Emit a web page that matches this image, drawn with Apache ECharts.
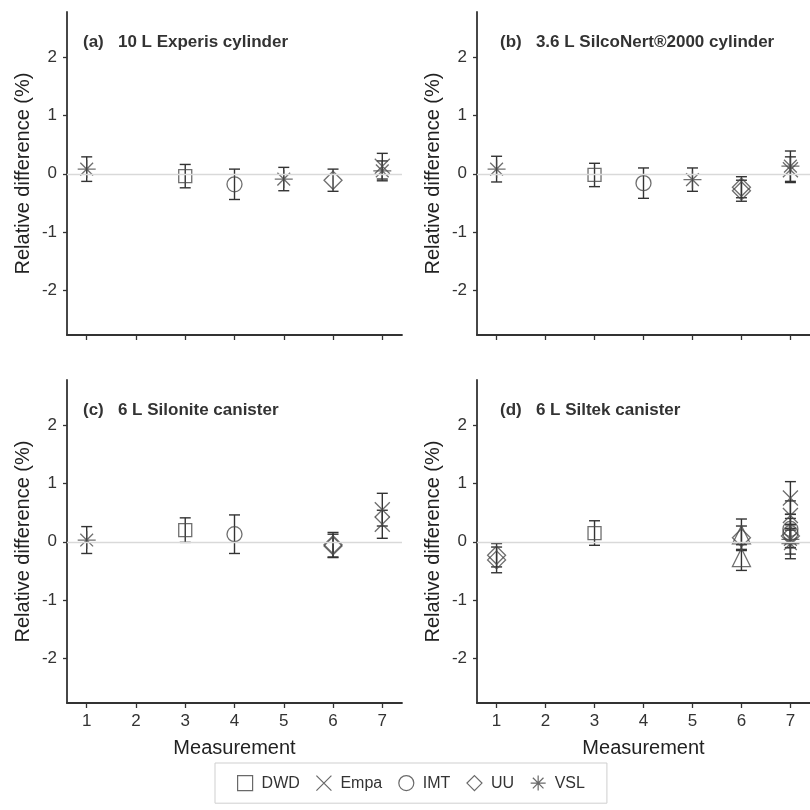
<!DOCTYPE html>
<html><head><meta charset="utf-8">
<script src="https://cdn.jsdelivr.net/npm/echarts@6/dist/echarts.min.js"></script>
<style>html,body{margin:0;padding:0;background:#fff}#c{width:810px;height:810px}</style>
</head><body><div id="c"></div>
<script>
// ---- tick labels / categories ----
const xTicks = [1, 2, 3, 4, 5, 6, 7];
const yTicks = [-2, -1, 0, 1, 2];
const labs = ['DWD', 'Empa', 'IMT', 'UU', 'VSL'];
const panelTitles = ['(a)   10 L Experis cylinder', '(b)   3.6 L SilcoNert\u00AE2000 cylinder', '(c)   6 L Silonite canister', '(d)   6 L Siltek canister'];

// ---- values: [measurement, relative difference (%), uncertainty (%)] ----
// panel (a)
const a_DWD  = [[3, -0.04, 0.20]];
const a_Empa = [[7, 0.13, 0.22]];
const a_IMT  = [[4, -0.18, 0.26]];
const a_UU   = [[6, -0.11, 0.19]];
const a_VSL  = [[1, 0.08, 0.21], [5, -0.09, 0.20], [7, 0.05, 0.17]];
const a_Other = [];
// panel (b)
const b_DWD  = [[3, -0.02, 0.20]];
const b_Empa = [[7, 0.07, 0.22]];
const b_IMT  = [[4, -0.16, 0.26]];
const b_UU   = [[6, -0.23, 0.18], [6, -0.29, 0.18]];
const b_VSL  = [[1, 0.08, 0.22], [5, -0.10, 0.20], [7, 0.13, 0.26]];
const b_Other = [];
// panel (c)
const c_DWD  = [[3, 0.20, 0.21]];
const c_Empa = [[7, 0.55, 0.28], [7, 0.30, 0.24]];
const c_IMT  = [[4, 0.13, 0.33]];
const c_UU   = [[6, -0.05, 0.21], [6, -0.07, 0.20]];
const c_VSL  = [[1, 0.03, 0.23]];
const c_Other = [];
// panel (d)
const d_DWD  = [[3, 0.15, 0.21]];
const d_Empa = [[7, 0.75, 0.28], [7, 0.45, 0.25]];
const d_IMT  = [[7, 0.22, 0.25], [7, 0.15, 0.25]];
const d_UU   = [[1, -0.23, 0.20], [1, -0.31, 0.22], [6, 0.07, 0.20], [7, 0.10, 0.20]];
const d_VSL  = [[7, 0.04, 0.25], [7, -0.03, 0.26]];
const d_Other = [[6, 0.12, 0.27], [6, -0.27, 0.22]];

const panels = [
  {DWD: a_DWD, Empa: a_Empa, IMT: a_IMT, UU: a_UU, VSL: a_VSL, Other: a_Other},
  {DWD: b_DWD, Empa: b_Empa, IMT: b_IMT, UU: b_UU, VSL: b_VSL, Other: b_Other},
  {DWD: c_DWD, Empa: c_Empa, IMT: c_IMT, UU: c_UU, VSL: c_VSL, Other: c_Other},
  {DWD: d_DWD, Empa: d_Empa, IMT: d_IMT, UU: d_UU, VSL: d_VSL, Other: d_Other}
];

// ---- styling ----
const FONT = '"Liberation Sans", Arial, sans-serif';
const symbolOf = {
  DWD: 'rect',
  Empa: 'path://M0,0L10,10M10,0L0,10',
  IMT: 'circle',
  UU: 'diamond',
  VSL: 'path://M5,0L5,10M0,5L10,5M1.46,1.46L8.54,8.54M8.54,1.46L1.46,8.54',
  Other: 'triangle'
};
const sizeOf = {DWD: 13, Empa: 15, IMT: 15, UU: 18, VSL: 18, Other: 18};
const gridPos = [
  {left: 67, top: 12, width: 335, height: 323},
  {left: 477, top: 12, width: 335, height: 323},
  {left: 67, top: 380, width: 335, height: 323},
  {left: 477, top: 380, width: 335, height: 323}
];
const titlePos = [[83, 34], [500, 34], [83, 402], [500, 402]];

const axisColor = '#333';
const grids = [], xAxes = [], yAxes = [], series = [], titles = [];

function renderErr(params, api) {
  const x = api.value(0), lo = api.value(1), hi = api.value(2);
  const p1 = api.coord([x, hi]), p2 = api.coord([x, lo]);
  const w = 5.5;
  const st = {stroke: '#333', lineWidth: 1.4};
  return {type: 'group', children: [
    {type: 'line', shape: {x1: p1[0], y1: p1[1], x2: p2[0], y2: p2[1]}, style: st},
    {type: 'line', shape: {x1: p1[0] - w, y1: p1[1], x2: p1[0] + w, y2: p1[1]}, style: st},
    {type: 'line', shape: {x1: p2[0] - w, y1: p2[1], x2: p2[0] + w, y2: p2[1]}, style: st}
  ]};
}

panels.forEach((p, i) => {
  grids.push(Object.assign({containLabel: false}, gridPos[i]));
  const bottom = i >= 2;
  xAxes.push({
    type: 'value', gridIndex: i, min: 0.6, max: 7.4,
    axisLine: {show: true, onZero: false, lineStyle: {color: axisColor, width: 1.8}},
    axisTick: {show: true, customValues: xTicks, length: 5, lineStyle: {color: axisColor, width: 1.3}},
    axisLabel: {show: bottom, customValues: xTicks, fontSize: 17, color: '#333', fontFamily: FONT, margin: 10},
    splitLine: {show: false},
    name: bottom ? 'Measurement' : '', nameLocation: 'middle', nameGap: 35,
    nameTextStyle: {fontSize: 20, color: '#222', fontFamily: FONT}
  });
  yAxes.push({
    type: 'value', gridIndex: i, min: -2.76, max: 2.77,
    axisLine: {show: true, onZero: false, lineStyle: {color: axisColor, width: 1.8}},
    axisTick: {show: true, customValues: yTicks, length: 4, lineStyle: {color: axisColor, width: 1.3}},
    axisLabel: {customValues: yTicks, fontSize: 17, color: '#333', fontFamily: FONT, margin: 10},
    splitLine: {show: false},
    name: 'Relative difference (%)', nameLocation: 'middle', nameGap: 34, nameRotate: 90,
    nameTextStyle: {fontSize: 20, color: '#222', fontFamily: FONT}
  });
  titles.push({
    text: panelTitles[i], left: titlePos[i][0], top: titlePos[i][1], padding: 0,
    textStyle: {fontSize: 17, fontWeight: 'bold', color: '#333', fontFamily: FONT}
  });
  // zero reference line
  series.push({
    type: 'line', xAxisIndex: i, yAxisIndex: i, data: [], silent: true,
    markLine: {silent: true, symbol: 'none', label: {show: false},
      lineStyle: {color: '#d9d9d9', width: 1.3, type: 'solid'}, data: [{yAxis: 0}]}
  });
  // error bars
  const errData = [];
  ['Other'].concat(labs).forEach(k => p[k].forEach(d => errData.push([d[0], d[1] - d[2], d[1] + d[2]])));
  series.push({type: 'custom', xAxisIndex: i, yAxisIndex: i, renderItem: renderErr, data: errData, silent: true, z: 2});
  // markers
  labs.concat(['Other']).forEach(k => {
    series.push({
      name: k, type: 'scatter', xAxisIndex: i, yAxisIndex: i,
      symbol: symbolOf[k], symbolSize: sizeOf[k],
      itemStyle: {color: 'rgba(255,255,255,0)', borderColor: '#4a4a4a', borderWidth: 1.3},
      data: p[k].map(d => [d[0], d[1]]), z: 3, silent: true
    });
  });
});

const chart = echarts.init(document.getElementById('c'), null, {renderer: 'canvas'});
chart.setOption({
  animation: false,
  backgroundColor: '#fff',
  title: titles,
  grid: grids, xAxis: xAxes, yAxis: yAxes, series: series,
  legend: {
    data: labs, left: 215, top: 763, orient: 'horizontal',
    padding: [12, 22, 12, 22], itemGap: 16, itemWidth: 15, itemHeight: 15,
    borderColor: '#cfcfcf', borderWidth: 1,
    textStyle: {fontSize: 16, color: '#333', fontFamily: FONT, padding: [0, 0, 0, 4]},
    itemStyle: {color: 'rgba(255,255,255,0)', borderColor: '#444', borderWidth: 1.2}
  }
});
</script></body></html>
